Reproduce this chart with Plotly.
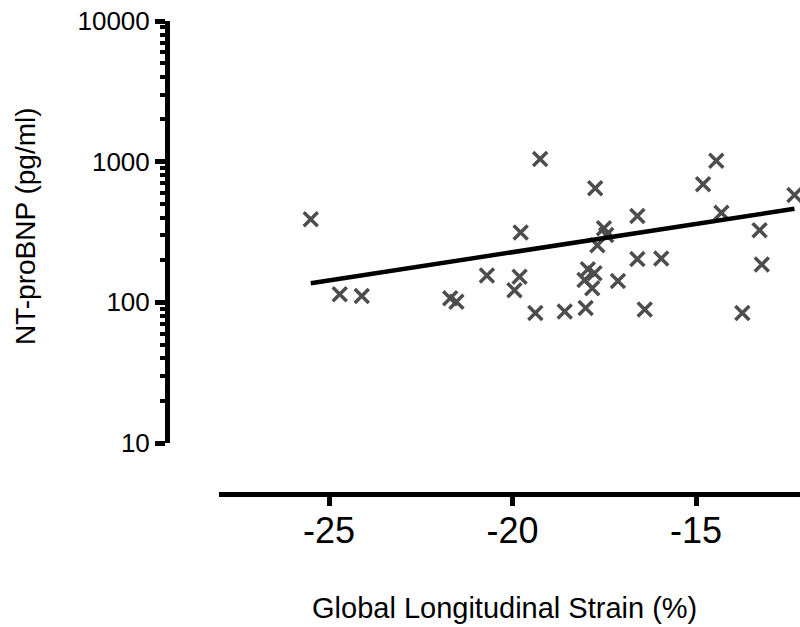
import plotly.graph_objects as go

# Data
strain = [-25.50, -24.71, -24.11, -21.70, -21.53, -20.70, -19.78, -19.81, -19.95,
          -19.38, -19.25, -18.58, -18.01, -17.95, -17.77, -18.04, -17.83, -17.69,
          -17.51, -17.45, -17.75, -17.13, -16.60, -16.60, -15.95, -16.40, -14.81,
          -14.45, -14.31, -13.27, -13.21, -13.74, -12.32]
ntprobnp = [389, 114, 111, 107, 101, 155, 314, 152, 122,
            84, 1044, 86, 91, 172, 161, 144, 126, 255,
            336, 301, 646, 142, 411, 203, 205, 89, 690,
            1014, 433, 326, 186, 84, 579]

fit_x = [-25.50, -12.32]
fit_y = [136.5, 463]

y_tickvals = [10, 100, 1000, 10000]
y_ticktext = ["10", "100", "1000", "10000"]
y_minor = [m * d for d in (10, 100, 1000) for m in range(2, 10)]
x_tickvals = [-25, -20, -15]
x_ticktext = ["-25", "-20", "-15"]

W, H = 800, 627
L, R, T, B = 167, 0, 21, 133
pw, ph = W - L - R, H - T - B

fig = go.Figure()
fig.add_trace(go.Scatter(
    x=strain, y=ntprobnp, mode="markers",
    marker=dict(symbol="x-thin", size=14, color="#4d4d4d",
                line=dict(width=3.5, color="#4d4d4d")),
    showlegend=False, hoverinfo="skip"))
fig.add_trace(go.Scatter(
    x=fit_x, y=fit_y, mode="lines",
    line=dict(color="black", width=4.5),
    showlegend=False, hoverinfo="skip"))

font_family = "Liberation Sans, Arial, sans-serif"

fig.update_layout(
    width=W, height=H,
    margin=dict(l=L, r=R, t=T, b=B, pad=0),
    paper_bgcolor="white", plot_bgcolor="white",
    font=dict(family=font_family, color="black"),
    xaxis=dict(
        domain=[(219 - L) / pw, 1],
        range=[-28, -28 + (800 - 219) / 36.7],
        anchor="free", position=0,
        showgrid=False, zeroline=False,
        showline=True, linecolor="black", linewidth=5,
        ticks="outside", ticklen=9, tickwidth=5, tickcolor="black",
        tickmode="array", tickvals=x_tickvals, ticktext=x_ticktext,
        tickfont=dict(size=36, family=font_family, color="black"),
        ticklabelstandoff=-6,
    ),
    yaxis=dict(
        type="log",
        domain=[(494 - 443) / ph, 1],
        range=[1, 4],
        anchor="free", position=0,
        showgrid=False, zeroline=False,
        showline=True, linecolor="black", linewidth=5,
        ticks="outside", ticklen=10, tickwidth=4.5, tickcolor="black",
        tickmode="array", tickvals=y_tickvals, ticktext=y_ticktext,
        tickfont=dict(size=26, family=font_family, color="black"),
        minor=dict(ticks="outside", ticklen=5, tickwidth=4, tickcolor="black",
                   tickmode="array", tickvals=y_minor, showgrid=False),
    ),
    annotations=[
        dict(text="Global Longitudinal Strain (%)", xref="paper", yref="paper",
             x=(504 - L) / pw, y=(494 - 608) / ph, showarrow=False,
             xanchor="center", yanchor="middle",
             font=dict(size=29, family=font_family, color="black")),
        dict(text="NT-proBNP (pg/ml)", xref="paper", yref="paper",
             x=(25.5 - L) / pw, y=(494 - 226.5) / ph, showarrow=False,
             textangle=-90, xanchor="center", yanchor="middle",
             font=dict(size=28, family=font_family, color="black")),
    ],
)

fig.write_html("out.html",
               config={"displayModeBar": False},
               post_script="document.body.style.margin='0';document.body.style.overflow='hidden';")
